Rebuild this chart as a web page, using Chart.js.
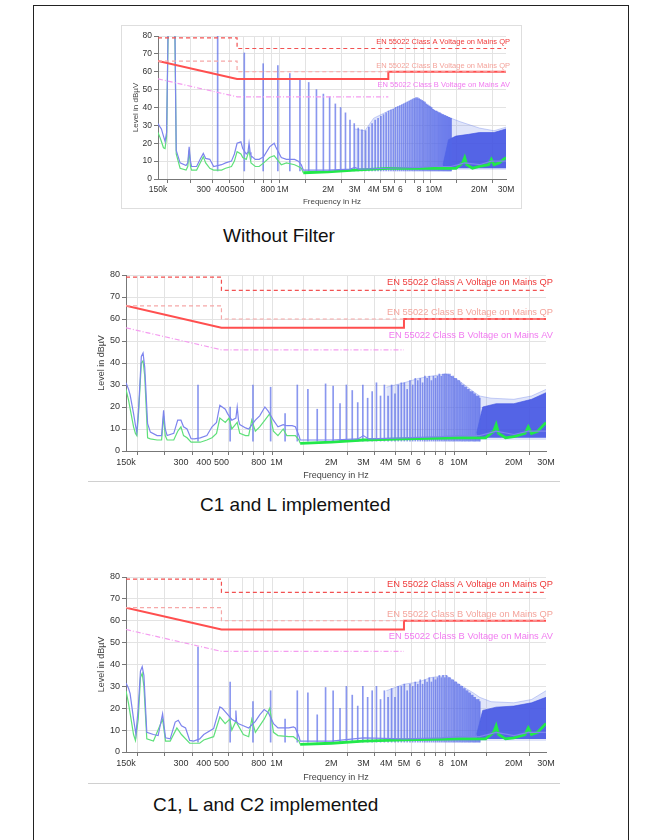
<!DOCTYPE html>
<html><head><meta charset="utf-8">
<script src="https://cdn.jsdelivr.net/npm/chart.js@4/dist/chart.umd.min.js"></script>
<style>
html,body{margin:0;padding:0;background:#fff}
body{width:645px;height:840px;position:relative;overflow:hidden;font-family:"Liberation Sans",Arial,sans-serif}
.frame{position:absolute;left:33px;top:5px;width:596px;height:860px;border:1.5px solid #222;box-sizing:border-box}
.panel{position:absolute}
.panel canvas{position:absolute;left:0;top:0}
.p1{left:122px;top:26px;width:399px;height:182px;outline:1px solid #dedede}
.p2{left:90px;top:263px;width:468px;height:218px}
.p3{left:90px;top:565px;width:468px;height:218px}
.sep{position:absolute;height:0;border-top:1.5px solid #d0d0d0}
.cap{position:absolute;font-size:19px;color:#111;white-space:nowrap;line-height:22px}
</style></head><body>
<div class="frame"></div>
<div class="panel p1"><canvas id="c1" width="399" height="182"></canvas></div>
<div class="cap" style="left:223px;top:225px">Without Filter</div>
<div class="panel p2"><canvas id="c2" width="468" height="218"></canvas></div>
<div class="sep" style="left:88px;top:481px;width:472px"></div>
<div class="cap" style="left:200px;top:494px">C1 and L implemented</div>
<div class="panel p3"><canvas id="c3" width="468" height="218"></canvas></div>
<div class="sep" style="left:88px;top:783px;width:472px"></div>
<div class="cap" style="left:153px;top:794px">C1, L and C2 implemented</div>
<script>
// ---------- axes ----------
const xTickValues = [0.15,0.2,0.3,0.4,0.5,0.6,0.7,0.8,0.9,1,2,3,4,5,6,7,8,9,10,20,30];
const xTickLabels = ['150k','','300','400','500','','','800','','1M','2M','3M','4M','5M','6','','8','','10M','20M','30M'];
const yTickValues = [0,10,20,30,40,50,60,70,80];

// ---------- limit lines (MHz, dBuV) ----------
const classAQpMHz = [0.15,0.5,0.5,30];   const classAQpDb = [79,79,73,73];
const classAAvMHz = [0.15,0.5,0.5,30];   const classAAvDb = [66,66,60,60];
const classBQpMHz = [0.15,0.5,5,5,30];   const classBQpDb = [66,56,56,60,60];
const classBAvMHz = [0.15,0.5,5];        const classBAvDb = [56,46,46];
const limitLabels = ['EN 55022 Class A Voltage on Mains QP','EN 55022 Class B Voltage on Mains QP','EN 55022 Class B Voltage on Mains AV'];
const limitLabelDb = [76.5, 63, 52.7];

// ---------- switching harmonics (MHz) ----------
const harmonicMHz = [0.372,0.558,0.744,0.93,1.116,1.302,1.488,1.674,1.86,2.046,2.232,2.418,2.604,2.79,2.976,3.162,3.348,3.534,3.72,3.906,4.092,4.278,4.464,4.65,4.836,5.022,5.208,5.394,5.58,5.766,5.952,6.138,6.324,6.51,6.696,6.882,7.068,7.254,7.44,7.626,7.812,7.998,8.184,8.37,8.556,8.742,8.928,9.114,9.3,9.486,9.672,9.858,10.044,10.23,10.416,10.602,10.788,10.974,11.16,11.346,11.532,11.718,11.904,12.09,12.276,12.462,12.648,12.834,13.02];

// ---------- chart 1: Without Filter ----------
const c1PeakMHz = [0.15,0.155,0.158,0.163,0.167,0.171,0.175,0.194,0.198,0.21,0.23,0.236,0.241,0.246,0.25,0.27,0.285,0.299,0.31,0.33,0.35,0.395,0.42,0.459,0.48,0.5,0.53,0.545,0.575,0.59,0.6,0.61,0.618,0.66,0.7,0.75,0.82,0.88,0.9,0.98,1.06,1.2,1.27,1.33,1.37,2,2.8,3,3.2,5,8,10,13,16,20,24,30];
const c1PeakDb  = [31,29,28,24,21,26,85,85,16,9,7.5,9,18,10,7,7,11,14.3,11.5,11,7,8,9,10,14,20,20.8,17,14,15,20,15,13,11,11,12.5,18,20,18,12,11,11,10,8,5,5,5.5,6.5,5.5,6,6.5,7,7,9,8,10,10];
const c1AvgMHz  = [0.15,0.155,0.158,0.163,0.167,0.171,0.175,0.194,0.198,0.21,0.23,0.236,0.241,0.246,0.25,0.27,0.285,0.299,0.31,0.33,0.35,0.395,0.42,0.459,0.48,0.5,0.53,0.545,0.575,0.6,0.618,0.66,0.7,0.75,0.82,0.88,0.9,0.98,1.06,1.2,1.27,1.33,1.37,2,3,5,10,14,15.5,16,16.5,18,20,23,24,25,27,30];
const c1AvgDb   = [26,23,21,17.5,17,24,82,82,14,6,5,7,16,7,5,5,9,12.5,9,6,5,5,6,7,10,15.3,14,12,11,16,9,7,7,9,12,13,12,8,9,8,7,6,3.5,4,5,6,6,6,9,12,8,6,7,8,11,8,9,12];
const c1SpikeDb = [85,70.5,64.5,63.5,59,55.5,54,50,47.5,46, 42,40,37,33,31,28.5,27.5,27,29,31, 33,34,35,36,37,38,38.5,39,40,40.5, 41,41.5,42,42.5,43,43.5,44,44.5,45,45.5, 45.5,45,44.5,44,43.5,43,42,41.5,41,40.5, 40,39,38.5,38,38,37.5,37,37,36.5,36, 36,35.5,35.5,35,35,34.5,34.5,34,34];
const c1HazeMHz = [3,3.5,4,5,6,7.3,8,10,13,15,20,25,30];
const c1HazeDb  = [28,27,34,38,41,45,44.5,38.5,34,32,28.5,27,29];
const c1BandMHz = [11.5,12.5,14,17,20,25,30];
const c1BandDb  = [8,22,24,25,26,26,28];

// ---------- chart 2: C1 and L ----------
const c2PeakMHz = [0.15,0.155,0.158,0.165,0.169,0.172,0.176,0.182,0.186,0.19,0.197,0.204,0.222,0.235,0.241,0.246,0.252,0.274,0.288,0.3,0.31,0.324,0.341,0.355,0.383,0.416,0.444,0.47,0.49,0.525,0.54,0.57,0.6,0.61,0.62,0.63,0.678,0.705,0.767,0.81,0.865,0.904,0.963,1.02,1.09,1.14,1.22,1.27,1.33,1.35,2,2.8,3,3.2,5,8,10,13,16,20,24,30];
const c2PeakDb  = [31,28,25.5,17,11.7,8.5,20,43,44.5,38,12.4,8.6,7,7,18.5,10,7,8,14,14,11,10,5.6,5.5,6,7,11,13,20.8,19,17,14,15,20,14,12,10.5,10,14,16,20,18,14,11,12,11.5,11.5,11,7,5,5,5.5,7,5.5,6,6.5,7,7,9,7.5,9,9];
const c2AvgMHz  = [0.15,0.155,0.158,0.165,0.169,0.172,0.176,0.182,0.186,0.19,0.197,0.204,0.222,0.235,0.241,0.246,0.252,0.274,0.288,0.3,0.31,0.324,0.341,0.355,0.383,0.416,0.444,0.47,0.49,0.525,0.55,0.57,0.61,0.63,0.678,0.705,0.733,0.767,0.81,0.865,0.92,0.963,1.02,1.09,1.14,1.22,1.27,1.33,1.35,2,3,5,10,14,15.5,16,16.5,18,20,23,24,25,27,30];
const c2AvgDb   = [28,23,19.3,11,8,7,18,40,41,34,6,5.5,5,5,16,7,5,5,9,11,7,6,4,4,4,5,6,8,15,13,15,10,13,8,7,7,14,9,11,14,17,9,7,10,7,7,7,5,3.5,4,5,5.5,6,6,9,12,8,6,6.5,8,11,8,9,13];
const c2SpikeDb = [30,20,30,29,17,30,28,19,30.5,29.5, 21.5,30,27.5,22,30,24,27,31,25,30, 25,30,26,30,31,31,28,32,30,33, 32,33,31,34,33,34,32,34,33,34, 35,34,35,35,35,35,35,34,34,33, 33,32,32,31,30,30,29,29,28,28, 27,27,27,26,26,25,25,25,24];
const c2HazeMHz = [4,5,6,7,8.5,10,12,13,15,20,25,30];
const c2HazeDb  = [29,31,33,34,35,32,27,25,24,23.5,25,28];
const c2BandMHz = [12.5,13.5,16,20,25,30];
const c2BandDb  = [8,20,21.5,21.5,23.5,26.5];

// ---------- chart 3: C1, L and C2 ----------
const c3PeakMHz = [0.15,0.155,0.158,0.165,0.17,0.175,0.18,0.184,0.188,0.195,0.212,0.225,0.238,0.247,0.262,0.279,0.29,0.302,0.318,0.335,0.352,0.38,0.4,0.453,0.49,0.505,0.524,0.57,0.595,0.6,0.605,0.617,0.659,0.705,0.767,0.81,0.857,0.904,0.964,1.02,1.17,1.24,1.27,1.33,1.35,2,3,5,8,10,13,16,20,24,30];
const c3PeakDb  = [31.5,29,26.7,15,8,20,37,39,35,9,8,7.5,17.5,6.5,6,13.7,14.5,12,11,5.3,5,6,8,10.7,20.6,20,18.5,15,14,19,14,13,12,11,14,17,19.4,18,13,11,11,11.5,11,7,5,5,6.5,6,6.5,7,7,9,7.5,9,9];
const c3AvgMHz  = [0.15,0.155,0.158,0.165,0.169,0.175,0.18,0.184,0.188,0.195,0.212,0.238,0.247,0.262,0.285,0.302,0.335,0.352,0.38,0.4,0.453,0.49,0.524,0.555,0.57,0.6,0.659,0.705,0.733,0.767,0.857,0.92,0.964,1.02,1.17,1.24,1.33,1.35,2,3,5,10,14,15.5,16,16.5,18,20,23,24,25,27,30];
const c3AvgDb   = [28,22,17.7,8,5.3,15,34,36,30,6,5,15,5,5,11,8,4,4,4,5.5,7,16,13,15,10,14,8,7,15,9,15,20,9,7.5,7,7,5,3.5,4,5,5.5,6,6,9,12,8,6,6.5,8,11,8,9,13];
const c3SpikeDb = [48,32,23,28,15,28,27,17,29.5,28, 20,30,26,21,30,25,28,30,24,28, 25,29,25,30,30,31,28,31,30,32, 31,33,31,33,32,34,32,34,33,34, 35,34,35,34,35,34,34,33,33,32, 32,31,31,30,30,29,29,28,28,27, 27,26,26,25,25,24,24,24,23];
const c3HazeMHz = [4,5,6,7,8.5,10,12,13,15,20,25,30];
const c3HazeDb  = [28,31,32,34,35,31,27,25,23,22.5,24,28];
const c3BandMHz = [12.5,13.5,16,20,25,30];
const c3BandDb  = [8,19,20.5,21,22.5,25];

// ---------- drawing ----------
const FONT = "'Liberation Sans', Arial, sans-serif";
Chart.defaults.font.family = FONT;
const limitLabelColors = ['#ef3b3b','#f4a49c','#f17af0'];
const pts = (xs, ys) => xs.map((x, i) => ({x: x, y: ys[i]}));

const limitLabelPlugin = {
  id: 'limitLabels',
  afterDatasetsDraw(chart, args, opts) {
    const ctx = chart.ctx, x = chart.scales.x, y = chart.scales.y;
    ctx.save();
    ctx.font = opts.size + 'px ' + FONT;
    ctx.textAlign = 'right';
    ctx.textBaseline = 'middle';
    limitLabels.forEach((t, i) => {
      ctx.fillStyle = limitLabelColors[i];
      ctx.fillText(t, x.right + opts.dx, y.getPixelForValue(limitLabelDb[i]));
    });
    ctx.restore();
  }
};

function makeChart(id, d, L) {
  const datasets = [
    {label:'Class A QP', data: pts(classAQpMHz, classAQpDb), borderColor:'#f25252', borderWidth:1.2, borderDash:[4,3], order:0},
    {label:'Class A AV', data: pts(classAAvMHz, classAAvDb), borderColor:'#f6a8a8', borderWidth:1.2, borderDash:[4,3], order:0},
    {label:'Class B QP', data: pts(classBQpMHz, classBQpDb), borderColor:'#ff4f4f', borderWidth:2, order:0},
    {label:'Class B AV', data: pts(classBAvMHz, classBAvDb), borderColor:'#f59cf0', borderWidth:1.2, borderDash:[5,2,1,2], order:0},
    {label:'PK', data: pts(d.peakMHz, d.peakDb), borderColor:'#7d84ee', borderWidth:1.2, order:1},
    {label:'AV', data: pts(d.avgMHz, d.avgDb), borderColor:'#3ee05c', borderWidth:1.1, order:2,
      segment:{borderWidth: c => c.p0.parsed.x >= 1.34 ? 2.8 : 1.2, borderColor: c => c.p0.parsed.x >= 1.34 ? '#22e84a' : '#5fe07a'}},
    {type:'bar', label:'harmonics', data: pts(harmonicMHz, d.spikeDb), base: 4.5, barThickness: L.bar, backgroundColor:'rgba(82,102,232,0.68)', borderWidth:0, order:3},
    {label:'band', data: pts(d.bandMHz, d.bandDb), borderColor:'rgba(60,78,226,0.6)', borderWidth:1, backgroundColor:'rgba(58,76,226,0.84)', fill:{value:6}, order:4},
    {label:'haze', data: pts(d.hazeMHz, d.hazeDb), borderColor:'rgba(120,140,236,0.4)', borderWidth:1, backgroundColor:'rgba(125,146,236,0.24)', fill:{value:5}, order:5}
  ];
  datasets.forEach(ds => { ds.pointRadius = 0; ds.tension = 0; ds.clip = 0; if (!ds.type) ds.fill = ds.fill || false; });
  const tickFont = {size: L.tick};
  return new Chart(document.getElementById(id), {
    type: 'line',
    data: {datasets},
    options: {
      responsive: false, animation: false, devicePixelRatio: 1,
      layout: {padding: {top: L.padTop, right: L.padRight, left: 0, bottom: 0}},
      plugins: {legend:{display:false}, tooltip:{enabled:false}, limitLabels:{size: L.label, dx: L.labelDx}},
      scales: {
        x: {
          type: 'logarithmic', min: 0.15, max: 30, offset: false,
          afterBuildTicks: s => { s.ticks = xTickValues.map(v => ({value: v})); },
          afterFit: s => { s.height = L.xH; },
          ticks: {autoSkip:false, maxRotation:0, minRotation:0, padding:2, color:'#333', font:tickFont,
                  callback: (v, i) => xTickLabels[i]},
          grid: {color:'#e3e3e3', tickColor:'#777', tickLength:4, lineWidth:1},
          border: {color:'#777', width:1},
          title: {display:true, text:'Frequency in Hz', color:'#444', font:{size:L.title}, padding:{top:0, bottom:L.xTitlePad}}
        },
        y: {
          min: 0, max: 80,
          afterBuildTicks: s => { s.ticks = yTickValues.map(v => ({value: v})); },
          afterFit: s => { s.width = L.yW; },
          ticks: {padding:2, color:'#333', font:tickFont},
          grid: {color:'#e3e3e3', tickColor:'#777', tickLength:4, lineWidth:1},
          border: {color:'#777', width:1},
          title: {display:true, text:'Level in dBµV', color:'#444', font:{size:L.title}, padding:{top:L.yTitlePad, bottom:0}}
        }
      }
    },
    plugins: [limitLabelPlugin]
  });
}

makeChart('c1',
  {peakMHz:c1PeakMHz, peakDb:c1PeakDb, avgMHz:c1AvgMHz, avgDb:c1AvgDb, spikeDb:c1SpikeDb, hazeMHz:c1HazeMHz, hazeDb:c1HazeDb, bandMHz:c1BandMHz, bandDb:c1BandDb},
  {padTop:10, padRight:15, xH:29, yW:36, tick:8.5, title:8, label:7.5, labelDx:4, xTitlePad:1, yTitlePad:9, bar:1});
makeChart('c2',
  {peakMHz:c2PeakMHz, peakDb:c2PeakDb, avgMHz:c2AvgMHz, avgDb:c2AvgDb, spikeDb:c2SpikeDb, hazeMHz:c2HazeMHz, hazeDb:c2HazeDb, bandMHz:c2BandMHz, bandDb:c2BandDb},
  {padTop:12, padRight:12, xH:30, yW:36, tick:9, title:9, label:9.3, labelDx:7, xTitlePad:0, yTitlePad:6, bar:1});
makeChart('c3',
  {peakMHz:c3PeakMHz, peakDb:c3PeakDb, avgMHz:c3AvgMHz, avgDb:c3AvgDb, spikeDb:c3SpikeDb, hazeMHz:c3HazeMHz, hazeDb:c3HazeDb, bandMHz:c3BandMHz, bandDb:c3BandDb},
  {padTop:12, padRight:12, xH:31, yW:36, tick:9, title:9, label:9.3, labelDx:7, xTitlePad:0, yTitlePad:6, bar:1});
</script>
</body></html>
